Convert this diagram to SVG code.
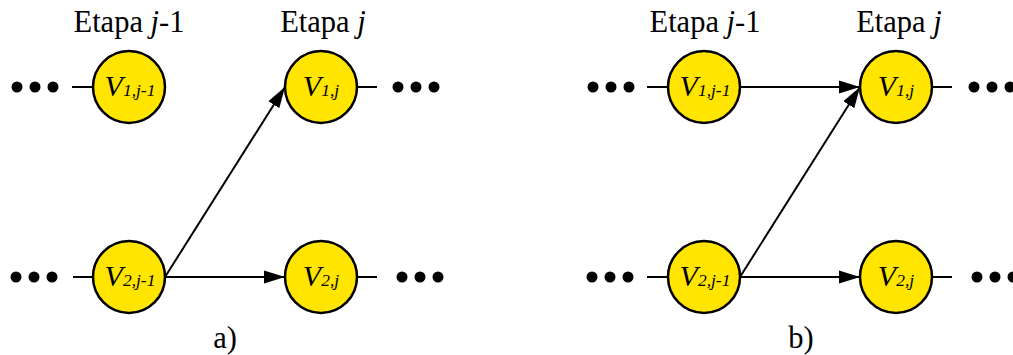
<svg xmlns="http://www.w3.org/2000/svg" width="1013" height="355" viewBox="0 0 1013 355">
<style>
.n{fill:#FFE500;stroke:#000;stroke-width:2.5}
.s{stroke:#000;stroke-width:2;fill:none}
.d{fill:#000}
.t{font-family:"Liberation Serif",serif;font-size:30.5px;fill:#000}
.v{font-family:"Liberation Serif",serif;font-style:italic;font-size:30px;fill:#000}
.sub{font-size:17.5px}
.i{font-style:italic}
</style>
<defs>
<marker id="ah" markerUnits="userSpaceOnUse" markerWidth="22" markerHeight="14" refX="21" refY="6.5" orient="auto" viewBox="0 0 22 13">
<path d="M0,0 L21,6.5 L0,13 z" fill="#000"/>
</marker>
<g id="dots"><circle cx="0" cy="0" r="5.5"/><circle cx="18" cy="0" r="5.5"/><circle cx="36" cy="0" r="5.5"/></g>
</defs>

<g id="labels">
<text class="t" x="129" y="32" text-anchor="middle">Etapa <tspan class="i">j</tspan>-1</text>
<text class="t" x="323" y="32" text-anchor="middle">Etapa <tspan class="i">j</tspan></text>
<text class="t" x="705" y="32" text-anchor="middle">Etapa <tspan class="i">j</tspan>-1</text>
<text class="t" x="899" y="32" text-anchor="middle">Etapa <tspan class="i">j</tspan></text>
<text class="t" x="225" y="348" text-anchor="middle">a)</text>
<text class="t" x="801" y="348" text-anchor="middle">b)</text>
</g>

<g id="dotsgroup" class="d">
<use href="#dots" x="17" y="87"/>
<use href="#dots" x="398" y="87"/>
<use href="#dots" x="16" y="277"/>
<use href="#dots" x="402" y="277"/>
<use href="#dots" x="593" y="87"/>
<use href="#dots" x="974" y="87"/>
<use href="#dots" x="592" y="277"/>
<use href="#dots" x="977" y="277"/>
</g>

<g id="connectors" class="s">
<line x1="72" y1="87" x2="93" y2="87"/>
<line x1="357" y1="87" x2="377" y2="87"/>
<line x1="73" y1="277" x2="93" y2="277"/>
<line x1="357" y1="277" x2="377" y2="277"/>
<line x1="165" y1="277" x2="285" y2="87" marker-end="url(#ah)"/>
<line x1="165" y1="277" x2="285" y2="277" marker-end="url(#ah)"/>
<line x1="647" y1="87" x2="668" y2="87"/>
<line x1="932" y1="87" x2="952" y2="87"/>
<line x1="647" y1="277" x2="668" y2="277"/>
<line x1="932" y1="277" x2="952" y2="277"/>
<line x1="740" y1="87" x2="860" y2="87" marker-end="url(#ah)"/>
<line x1="740" y1="277" x2="860" y2="87" marker-end="url(#ah)"/>
<line x1="740" y1="277" x2="860" y2="277" marker-end="url(#ah)"/>
</g>

<g id="a-V1jm1"><circle class="n" cx="129" cy="87" r="36"/><text class="v" x="130" y="95.5" text-anchor="middle">V<tspan class="sub" dy="0.5">1,j-1</tspan></text></g>
<g id="a-V1j"><circle class="n" cx="321" cy="87" r="36"/><text class="v" x="321" y="95.5" text-anchor="middle">V<tspan class="sub" dy="0.5">1,j</tspan></text></g>
<g id="a-V2jm1"><circle class="n" cx="129" cy="277" r="36"/><text class="v" x="130" y="285.5" text-anchor="middle">V<tspan class="sub" dy="0.5">2,j-1</tspan></text></g>
<g id="a-V2j"><circle class="n" cx="321" cy="277" r="36"/><text class="v" x="321" y="285.5" text-anchor="middle">V<tspan class="sub" dy="0.5">2,j</tspan></text></g>

<g id="b-V1jm1"><circle class="n" cx="704" cy="87" r="36"/><text class="v" x="705" y="95.5" text-anchor="middle">V<tspan class="sub" dy="0.5">1,j-1</tspan></text></g>
<g id="b-V1j"><circle class="n" cx="896" cy="87" r="36"/><text class="v" x="896" y="95.5" text-anchor="middle">V<tspan class="sub" dy="0.5">1,j</tspan></text></g>
<g id="b-V2jm1"><circle class="n" cx="704" cy="277" r="36"/><text class="v" x="705" y="285.5" text-anchor="middle">V<tspan class="sub" dy="0.5">2,j-1</tspan></text></g>
<g id="b-V2j"><circle class="n" cx="896" cy="277" r="36"/><text class="v" x="896" y="285.5" text-anchor="middle">V<tspan class="sub" dy="0.5">2,j</tspan></text></g>
</svg>
